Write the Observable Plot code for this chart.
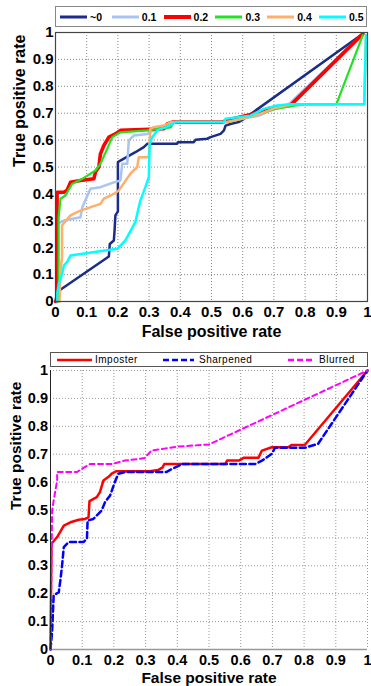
<!DOCTYPE html>
<html>
<head>
<meta charset="utf-8">
<script src="https://cdn.jsdelivr.net/npm/d3@7"></script>
<script src="https://cdn.jsdelivr.net/npm/@observablehq/plot@0.6"></script>
<style>
  body { margin: 0; background: #fff; font-family: "Liberation Sans", Arial, sans-serif; }
  .block { position: relative; width: 371px; }
  .block svg.plot { display: block; }
  .legend { position: absolute; background: #fff; box-sizing: border-box; }
  .legend .item { position: absolute; top: 0; height: 100%; display: flex; align-items: center; white-space: nowrap; }
  .legend svg { display: block; }
</style>
</head>
<body>
<div id="top" class="block"></div>
<div id="bottom" class="block"></div>
<script>
// ---------- shared ticks ----------
const ticks = [0, 0.1, 0.2, 0.3, 0.4, 0.5, 0.6, 0.7, 0.8, 0.9, 1];
const tickLabels = ["0", "0.1", "0.2", "0.3", "0.4", "0.5", "0.6", "0.7", "0.8", "0.9", "1"];
const xLabel = "False positive rate";
const yLabel = "True positive rate";

// ---------- top chart series ----------
const topNames = ["~0", "0.1", "0.2", "0.3", "0.4", "0.5"];
const topColors = ["#1b2d88", "#a9c3f3", "#ff0000", "#22e022", "#ffae6b", "#00ffff"];

const s0_fpr = [0, 0.005, 0.171, 0.174, 0.187, 0.189, 0.192, 0.2, 0.2, 0.208, 0.256, 0.283, 0.294, 0.39, 0.392, 0.443, 0.449, 0.486, 0.497, 0.529, 0.54, 0.545, 0.561, 0.587, 0.604, 0.985];
const s0_tpr = [0, 0.035, 0.167, 0.214, 0.227, 0.258, 0.32, 0.335, 0.518, 0.524, 0.555, 0.574, 0.586, 0.586, 0.592, 0.592, 0.601, 0.605, 0.611, 0.623, 0.636, 0.654, 0.66, 0.667, 0.679, 0.995];

const s1_fpr = [0, 0.005, 0.005, 0.027, 0.08, 0.086, 0.112, 0.144, 0.187, 0.208, 0.214, 0.23, 0.235, 0.251, 0.294, 0.315, 0.369, 0.38, 0.55, 0.6, 0.65, 0.7, 0.74, 0.985];
const s1_tpr = [0, 0, 0.289, 0.301, 0.313, 0.35, 0.419, 0.425, 0.443, 0.45, 0.512, 0.512, 0.599, 0.617, 0.623, 0.636, 0.648, 0.667, 0.667, 0.68, 0.69, 0.715, 0.725, 0.995];

const s2_fpr = [0, 0.005, 0.005, 0.027, 0.037, 0.048, 0.08, 0.123, 0.128, 0.139, 0.144, 0.155, 0.171, 0.192, 0.208, 0.347, 0.358, 0.374, 0.534, 0.572, 0.636, 0.678, 0.721, 0.753, 0.985];
const s2_tpr = [0, 0, 0.406, 0.406, 0.413, 0.443, 0.45, 0.456, 0.481, 0.5, 0.549, 0.58, 0.611, 0.623, 0.636, 0.642, 0.66, 0.667, 0.667, 0.68, 0.698, 0.716, 0.725, 0.729, 0.995];

const s3_fpr = [0.01, 0.01, 0.016, 0.032, 0.053, 0.086, 0.128, 0.144, 0.166, 0.182, 0.208, 0.294, 0.369, 0.374, 0.385, 0.55, 0.6, 0.65, 0.7, 0.76, 0.8, 0.9, 0.985];
const s3_tpr = [0, 0.313, 0.382, 0.394, 0.437, 0.456, 0.487, 0.512, 0.568, 0.611, 0.629, 0.636, 0.648, 0.66, 0.667, 0.667, 0.68, 0.695, 0.715, 0.727, 0.733, 0.733, 0.99];

const s4_fpr = [0.013, 0.016, 0.021, 0.021, 0.048, 0.08, 0.144, 0.155, 0.187, 0.203, 0.24, 0.262, 0.267, 0.299, 0.304, 0.315, 0.347, 0.37, 0.55, 0.6, 0.65, 0.7, 0.76, 0.99, 0.99, 0.995];
const s4_tpr = [0, 0.115, 0.165, 0.283, 0.32, 0.338, 0.363, 0.382, 0.4, 0.413, 0.475, 0.5, 0.536, 0.536, 0.642, 0.648, 0.654, 0.667, 0.667, 0.68, 0.695, 0.718, 0.733, 0.733, 0.75, 0.99];

const s5_fpr = [0.005, 0.005, 0.011, 0.021, 0.027, 0.037, 0.048, 0.198, 0.208, 0.224, 0.256, 0.262, 0.272, 0.288, 0.299, 0.302, 0.31, 0.326, 0.353, 0.374, 0.385, 0.54, 0.545, 0.625, 0.668, 0.71, 0.75, 0.99, 0.99, 0.995];
const s5_tpr = [0, 0.029, 0.066, 0.103, 0.134, 0.146, 0.171, 0.196, 0.208, 0.227, 0.295, 0.326, 0.375, 0.425, 0.462, 0.586, 0.611, 0.636, 0.648, 0.66, 0.667, 0.667, 0.679, 0.691, 0.716, 0.729, 0.733, 0.733, 0.75, 0.99];

const topSeries = [[s0_fpr, s0_tpr], [s1_fpr, s1_tpr], [s2_fpr, s2_tpr], [s3_fpr, s3_tpr], [s4_fpr, s4_tpr], [s5_fpr, s5_tpr]];
const topWidths = [2.5, 2.5, 3.6, 2.2, 2.5, 2.5];

// ---------- bottom chart series ----------
const botNames = ["Imposter", "Sharpened", "Blurred"];
const botColors = ["#ff0000", "#0000ff", "#ff00ff"];

const imp_fpr = [0, 0.003, 0.021, 0.042, 0.063, 0.089, 0.109, 0.12, 0.123, 0.146, 0.156, 0.167, 0.182, 0.193, 0.208, 0.313, 0.339, 0.354, 0.359, 0.552, 0.557, 0.594, 0.609, 0.656, 0.667, 0.698, 0.75, 0.76, 0.802, 1];
const imp_tpr = [0, 0.379, 0.403, 0.444, 0.456, 0.465, 0.468, 0.474, 0.532, 0.546, 0.564, 0.606, 0.618, 0.63, 0.639, 0.639, 0.643, 0.653, 0.665, 0.665, 0.677, 0.677, 0.687, 0.687, 0.713, 0.725, 0.725, 0.733, 0.733, 1];

const sh_fpr = [0, 0.005, 0.01, 0.026, 0.031, 0.036, 0.042, 0.057, 0.104, 0.115, 0.117, 0.135, 0.161, 0.172, 0.188, 0.203, 0.214, 0.234, 0.365, 0.385, 0.417, 0.646, 0.667, 0.698, 0.708, 0.802, 0.844, 1];
const sh_tpr = [0, 0.062, 0.194, 0.205, 0.247, 0.295, 0.367, 0.385, 0.385, 0.397, 0.462, 0.468, 0.498, 0.528, 0.552, 0.6, 0.63, 0.636, 0.636, 0.648, 0.665, 0.665, 0.677, 0.701, 0.723, 0.723, 0.737, 1];

const bl_fpr = [0, 0.005, 0.01, 0.021, 0.021, 0.083, 0.104, 0.125, 0.195, 0.234, 0.297, 0.318, 0.359, 0.4, 0.5, 1];
const bl_tpr = [0, 0.498, 0.534, 0.606, 0.636, 0.636, 0.651, 0.665, 0.665, 0.677, 0.686, 0.713, 0.72, 0.727, 0.735, 1];

const botSeries = [[imp_fpr, imp_tpr], [sh_fpr, sh_tpr], [bl_fpr, bl_tpr]];
const botWidths = [2.5, 2.5, 2];
const botDash = [null, "6,3.5", "5,3.5"];

const toRows = ([fx, ty]) => fx.map((x, i) => ({x, y: ty[i]}));

// ---------- top plot ----------
const topPlot = Plot.plot({
  width: 371, height: 340,
  marginLeft: 55, marginRight: 4, marginTop: 32, marginBottom: 39,
  style: {fontFamily: "'Liberation Sans', Arial, sans-serif", fontSize: "15px", fontWeight: "bold", color: "#000", background: "#fff"},
  x: {domain: [0, 1]},
  y: {domain: [0, 1]},
  marks: [
    Plot.gridX(ticks, {stroke: "#888", strokeOpacity: 1, strokeDasharray: "1,2"}),
    Plot.gridY(ticks, {stroke: "#888", strokeOpacity: 1, strokeDasharray: "1,2"}),
    ...topSeries.map((s, i) => Plot.line(toRows(s), {x: "x", y: "y", stroke: topColors[i], strokeWidth: topWidths[i], strokeLinejoin: "round"})),
    Plot.frame({stroke: "#444", strokeWidth: 1.2}),
    Plot.axisX({ticks, tickFormat: (d, i) => tickLabels[i], tickSize: 0, tickPadding: 5, label: null, fontSize: 15, fontWeight: "bold"}),
    Plot.axisY({ticks, tickFormat: (d, i) => tickLabels[i], tickSize: 0, tickPadding: 2, label: null, fontSize: 15, fontWeight: "bold"}),
    Plot.text([xLabel], {frameAnchor: "bottom", dy: 30, text: d => d, fontSize: 16, fontWeight: "bold", lineAnchor: "middle"}),
    Plot.text([yLabel], {frameAnchor: "left", dx: -36, rotate: -90, text: d => d, fontSize: 16, fontWeight: "bold", lineAnchor: "middle"})
  ]
});
topPlot.classList.add("plot");
document.getElementById("top").appendChild(topPlot);

// ---------- bottom plot ----------
const botPlot = Plot.plot({
  width: 371, height: 346,
  marginLeft: 50, marginRight: 4, marginTop: 30, marginBottom: 37,
  style: {fontFamily: "'Liberation Sans', Arial, sans-serif", fontSize: "14.5px", fontWeight: "bold", color: "#000", background: "#fff"},
  x: {domain: [0, 1]},
  y: {domain: [0, 1]},
  marks: [
    Plot.gridX(ticks, {stroke: "#999", strokeOpacity: 1, strokeDasharray: "1,2"}),
    Plot.gridY(ticks, {stroke: "#999", strokeOpacity: 1, strokeDasharray: "1,2"}),
    Plot.ruleY([0], {stroke: "#999", strokeWidth: 1.5}),
    ...botSeries.map((s, i) => Plot.line(toRows(s), {x: "x", y: "y", stroke: botColors[i], strokeWidth: botWidths[i], strokeDasharray: botDash[i], strokeLinejoin: "round"})),
    Plot.ruleX([0], {stroke: "#222", strokeWidth: 1}),
    Plot.axisX({ticks, tickFormat: (d, i) => tickLabels[i], tickSize: 0, tickPadding: 5, label: null, fontSize: 14.5, fontWeight: "bold"}),
    Plot.axisY({ticks, tickFormat: (d, i) => tickLabels[i], tickSize: 0, tickPadding: 2.5, label: null, fontSize: 14.5, fontWeight: "bold"}),
    Plot.text([xLabel], {frameAnchor: "bottom", dy: 29, text: d => d, fontSize: 15.5, fontWeight: "bold", lineAnchor: "middle"}),
    Plot.text([yLabel], {frameAnchor: "left", dx: -34, rotate: -90, text: d => d, fontSize: 15.5, fontWeight: "bold", lineAnchor: "middle"})
  ]
});
botPlot.classList.add("plot");
document.getElementById("bottom").appendChild(botPlot);

// ---------- legends ----------
function legend(container, box, items) {
  const lg = d3.select(container).append("div").attr("class", "legend")
    .style("left", box.left + "px").style("top", box.top + "px")
    .style("width", box.width + "px").style("height", box.height + "px")
    .style("border", box.border);
  items.forEach(it => {
    const d = lg.append("div").attr("class", "item").style("left", it.x + "px");
    const s = d.append("svg").attr("width", it.w).attr("height", 8);
    s.append("line").attr("x1", 0).attr("x2", it.w).attr("y1", 4).attr("y2", 4)
      .attr("stroke", it.color).attr("stroke-width", it.sw)
      .attr("stroke-dasharray", it.dash || null);
    d.append("span").text(it.name)
      .style("margin-left", it.gap + "px")
      .style("font-size", it.fs + "px").style("font-weight", it.fw)
      .style("letter-spacing", it.ls + "px");
  });
}

legend("#top", {left: 55, top: 6, width: 312, height: 21, border: "1.5px solid #888"},
  topNames.map((n, i) => ({name: n, x: 4 + i * 51.8, w: 27, color: topColors[i], sw: i === 2 ? 4 : 3, gap: 3, fs: 10.5, fw: "bold", ls: 0})));

const botLegX = [6, 112, 237];
const botLegW = [35, 31, 27];
const botLegGap = [3, 5, 4];
legend("#bottom", {left: 50, top: 12, width: 318, height: 15, border: "1px solid #555"},
  botNames.map((n, i) => ({name: n, x: botLegX[i], w: botLegW[i], color: botColors[i], sw: 2.5, dash: botDash[i] ? "6,3" : null, gap: botLegGap[i], fs: 10, fw: "normal", ls: 0.5})));
</script>
</body>
</html>
